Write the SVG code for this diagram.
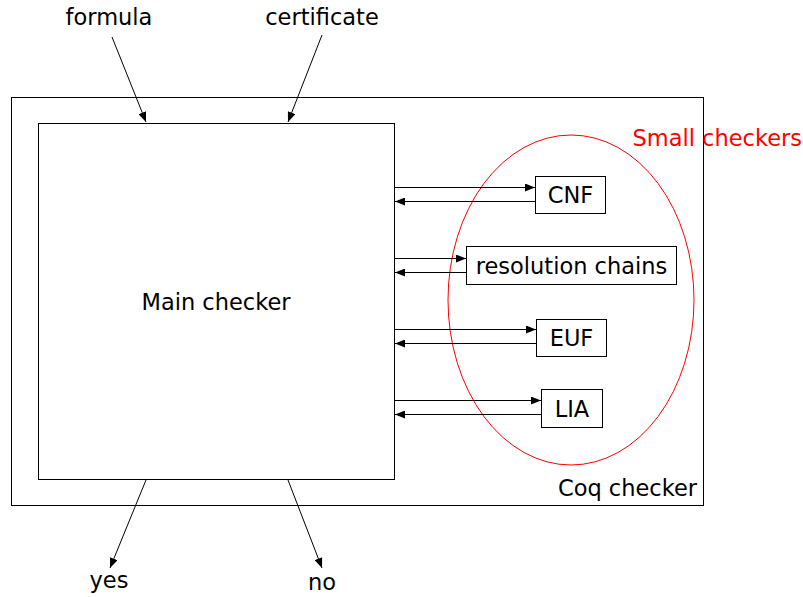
<svg xmlns="http://www.w3.org/2000/svg" width="803" height="597" viewBox="0 0 803 597">
<style>
text{font-family:"DejaVu Sans","Liberation Sans",sans-serif;font-size:22.5px;fill:#000}
.box{fill:#fff;stroke:#000;stroke-width:1}
.ln{stroke:#000;stroke-width:1;fill:none;marker-end:url(#ah)}
</style>
<defs>
<marker id="ah" viewBox="0 0 10 8" refX="10" refY="4" markerWidth="10" markerHeight="8" markerUnits="userSpaceOnUse" orient="auto">
<path d="M0,0 L10,4 L0,8 Z" fill="#000"/>
</marker>
</defs>
<g id="coq">
<rect class="box" x="11.5" y="97.5" width="692" height="408"/>
<text x="697" y="496" text-anchor="end">Coq checker</text>
</g>
<g id="small">
<ellipse cx="571" cy="300" rx="123" ry="165" fill="none" stroke="#f00" stroke-width="1"/>
<text x="802" y="146" text-anchor="end" style="fill:#f00">Small checkers</text>
</g>
<g id="main">
<rect class="box" x="38.5" y="123.5" width="356" height="356"/>
<text x="216" y="310" text-anchor="middle">Main checker</text>
</g>
<g id="cnf">
<rect class="box" x="535.5" y="176.5" width="70" height="37"/>
<text x="570.5" y="203" text-anchor="middle">CNF</text>
</g>
<g id="res">
<rect class="box" x="466.5" y="246.5" width="210" height="38"/>
<text x="571.5" y="274" text-anchor="middle">resolution chains</text>
</g>
<g id="euf">
<rect class="box" x="536.5" y="319.5" width="70" height="37"/>
<text x="571.5" y="346" text-anchor="middle">EUF</text>
</g>
<g id="lia">
<rect class="box" x="541.5" y="389.5" width="61" height="38"/>
<text x="572" y="417" text-anchor="middle">LIA</text>
</g>
<g id="labels">
<text x="109" y="25" text-anchor="middle">formula</text>
<text x="322" y="25" text-anchor="middle">certificate</text>
<text x="109" y="588" text-anchor="middle">yes</text>
<text x="322" y="590" text-anchor="middle">no</text>
</g>
<g id="connectors">
<line class="ln" x1="112" y1="37" x2="146" y2="122"/>
<line class="ln" x1="322" y1="35" x2="288" y2="122"/>
<line class="ln" x1="146" y1="480" x2="110" y2="568"/>
<line class="ln" x1="288" y1="480" x2="322" y2="568"/>
<line class="ln" x1="394" y1="187.5" x2="535" y2="187.5"/>
<line class="ln" x1="535" y1="201.5" x2="395" y2="201.5"/>
<line class="ln" x1="394" y1="258.5" x2="466" y2="258.5"/>
<line class="ln" x1="466" y1="272.5" x2="395" y2="272.5"/>
<line class="ln" x1="394" y1="329.5" x2="536" y2="329.5"/>
<line class="ln" x1="536" y1="343.5" x2="395" y2="343.5"/>
<line class="ln" x1="394" y1="400.5" x2="541" y2="400.5"/>
<line class="ln" x1="541" y1="414.5" x2="395" y2="414.5"/>
</g>
</svg>
